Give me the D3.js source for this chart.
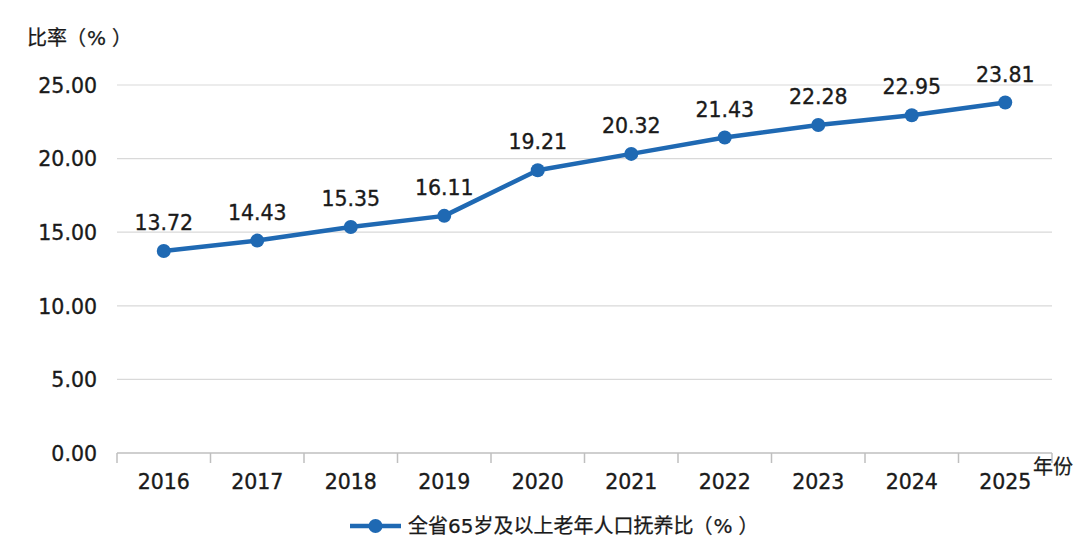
<!DOCTYPE html>
<html>
<head>
  <meta charset="utf-8">
  <title>全省65岁及以上老年人口抚养比</title>
  <style type="text/css">
    html, body { margin: 0; padding: 0; background: #fff; }
    svg { display: block; }
    text { text-spacing-trim: space-all; font-feature-settings: "chws" 0, "halt" 0; }
    .num { font-family: "DejaVu Sans", sans-serif; font-size: 20.5px; fill: #1a1a1a; stroke: #1a1a1a; stroke-width: 0.35px; }
    .cjk { font-family: "DejaVu Sans", "Noto Sans CJK SC", sans-serif; font-size: 20px; fill: #1a1a1a; stroke: #1a1a1a; stroke-width: 0.25px; }
  </style>
</head>
<body>

<svg id='vis' width='1080' height='557'></svg>

<script src="https://cdnjs.cloudflare.com/ajax/libs/d3/7.8.5/d3.min.js"></script>
<script type="text/javascript">

  // data
  var years = ['2016', '2017', '2018', '2019', '2020', '2021', '2022', '2023', '2024', '2025'];
  var ratio = [13.72, 14.43, 15.35, 16.11, 19.21, 20.32, 21.43, 22.28, 22.95, 23.81];
  var yTicks = [0, 5, 10, 15, 20, 25];
  var yTitle = '比率';
  var seriesName = '全省65岁及以上老年人口抚养比';

  var margin = { top: 85, right: 28, bottom: 104, left: 117 },
      width = 1080,
      height = 557,
      color = '#1f69b3';

  var svg = d3.select('#vis');

  var xScale = d3.scaleBand()
    .domain(years)
    .range([margin.left, width - margin.right])
    .padding(0);

  var yScale = d3.scaleLinear()
    .domain([0, 25])
    .range([height - margin.bottom, margin.top]);

  // text followed by a widely spaced "（%）"
  function withUnit(sel, label) {
    sel.append('tspan').text(label);
    sel.append('tspan').attr('dx', -1).text('（');
    sel.append('tspan').attr('dx', 1).text('%');
    sel.append('tspan').attr('dx', 6).text('）');
  }

  // gridlines
  svg.append('g')
    .selectAll('line')
    .data(yTicks.filter(function(d) { return d > 0 }))
    .enter().append('line')
      .attr('x1', margin.left)
      .attr('x2', width - margin.right)
      .attr('y1', function(d) { return yScale(d) })
      .attr('y2', function(d) { return yScale(d) })
      .attr('stroke', '#d9d9d9')
      .attr('stroke-width', 1.2);

  // y axis labels
  var yAxis = d3.axisLeft(yScale)
    .tickValues(yTicks)
    .tickFormat(d3.format('.2f'))
    .tickSize(0)
    .tickPadding(20);

  svg.append('g')
    .attr('transform', 'translate(' + margin.left + ',0)')
    .call(yAxis)
    .call(function(g) { g.select('.domain').remove() })
    .selectAll('text')
      .attr('class', 'num')
      .attr('dy', '0.36em')
      .attr('font-size', null)
      .attr('font-family', null)
      .attr('fill', null);

  // x axis with ticks between categories
  var xAxis = svg.append('g')
    .attr('transform', 'translate(0,' + yScale(0) + ')');

  xAxis.append('line')
    .attr('x1', margin.left)
    .attr('x2', width - margin.right)
    .attr('stroke', '#bfbfbf')
    .attr('stroke-width', 1.5);

  var bounds = years.map(function(d) { return xScale(d) }).concat([width - margin.right]);
  xAxis.selectAll('.tick-mark')
    .data(bounds)
    .enter().append('line')
      .attr('class', 'tick-mark')
      .attr('x1', function(d) { return d })
      .attr('x2', function(d) { return d })
      .attr('y1', 0)
      .attr('y2', 10)
      .attr('stroke', '#bfbfbf')
      .attr('stroke-width', 1.5);

  xAxis.selectAll('.year')
    .data(years)
    .enter().append('text')
      .attr('class', 'num')
      .attr('x', function(d) { return xScale(d) + xScale.bandwidth() / 2 })
      .attr('y', 36)
      .attr('text-anchor', 'middle')
      .text(function(d) { return d });

  // axis titles
  svg.append('text')
    .attr('class', 'cjk')
    .attr('x', 27)
    .attr('y', 45)
    .call(withUnit, yTitle);

  svg.append('text')
    .attr('class', 'cjk')
    .attr('x', 1033)
    .attr('y', 474)
    .text('年份');

  // series
  var cx = function(d, i) { return xScale(years[i]) + xScale.bandwidth() / 2 };

  var line = d3.line()
    .x(cx)
    .y(function(d) { return yScale(d) });

  svg.append('path')
    .datum(ratio)
    .attr('d', line)
    .attr('fill', 'none')
    .attr('stroke', color)
    .attr('stroke-width', 4.5)
    .attr('stroke-linejoin', 'round');

  svg.append('g')
    .selectAll('circle')
    .data(ratio)
    .enter().append('circle')
      .attr('cx', cx)
      .attr('cy', function(d) { return yScale(d) })
      .attr('r', 7)
      .attr('fill', color);

  svg.append('g')
    .selectAll('text')
    .data(ratio)
    .enter().append('text')
      .attr('class', 'num')
      .attr('x', cx)
      .attr('y', function(d) { return yScale(d) - 21 })
      .attr('text-anchor', 'middle')
      .text(function(d) { return d.toFixed(2) });

  // legend
  var legend = svg.append('g')
    .attr('transform', 'translate(350,526)');

  legend.append('line')
    .attr('x1', 0)
    .attr('x2', 51)
    .attr('stroke', color)
    .attr('stroke-width', 4.5);

  legend.append('circle')
    .attr('cx', 25.5)
    .attr('r', 7)
    .attr('fill', color);

  legend.append('text')
    .attr('class', 'cjk')
    .attr('x', 58)
    .attr('y', 7)
    .call(withUnit, seriesName);

</script>
</body>
</html>
